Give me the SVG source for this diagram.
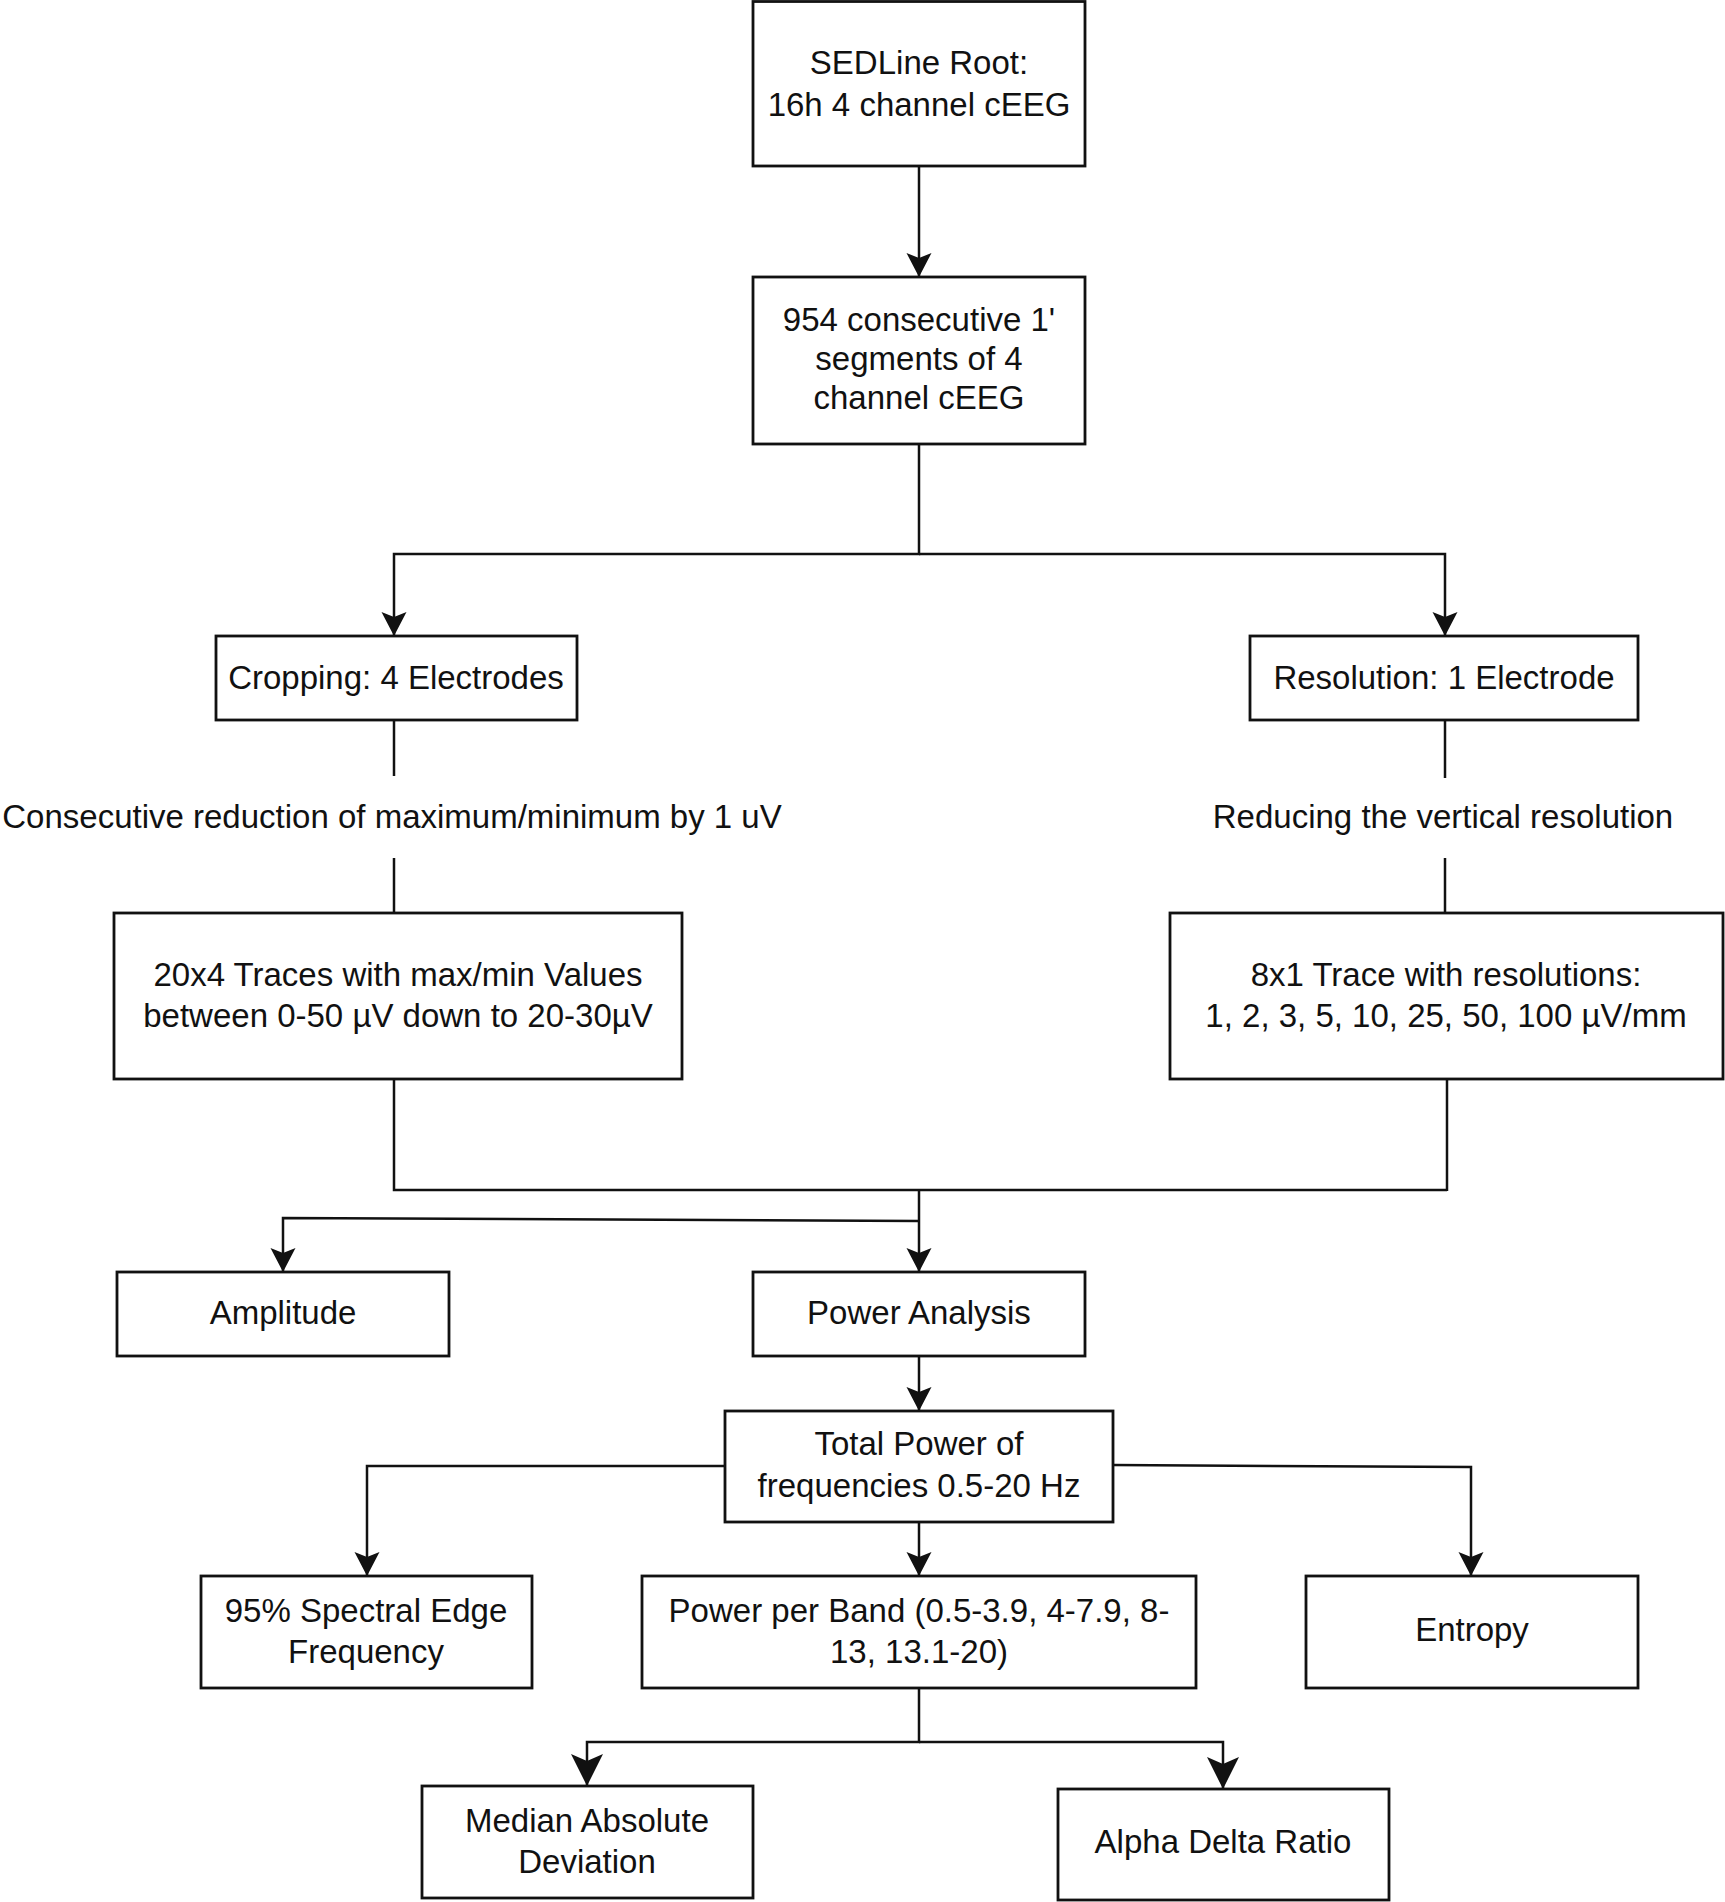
<svg xmlns="http://www.w3.org/2000/svg" width="1725" height="1902" viewBox="0 0 1725 1902">
<style>
.box{fill:#ffffff;stroke:#111111;stroke-width:2.8}
.ln{fill:none;stroke:#111111;stroke-width:2.5}
.t{font-family:"Liberation Sans",Arial,Helvetica,sans-serif;font-size:33px;fill:#111111;text-anchor:middle}
</style>
<defs>
<marker id="arr" markerUnits="userSpaceOnUse" viewBox="-26 -14 28 28" markerWidth="28" markerHeight="28" refX="0" refY="0" orient="auto">
<path d="M0,0 L-24,-12.5 L-19,0 L-24,12.5 Z" fill="#111111"/>
</marker>
<marker id="arrL" markerUnits="userSpaceOnUse" viewBox="-34 -18 36 36" markerWidth="36" markerHeight="36" refX="0" refY="0" orient="auto">
<path d="M0,0 L-32,-16 L-25,0 L-32,16 Z" fill="#111111"/>
</marker>
</defs>
<rect width="1725" height="1902" fill="#ffffff"/>
<g id="connectors">
<path class="ln" d="M919,166 V277" marker-end="url(#arr)"/>
<path class="ln" d="M919,444 V554 H394 V636" marker-end="url(#arr)"/>
<path class="ln" d="M919,554 H1445 V636" marker-end="url(#arr)"/>
<path class="ln" d="M394,720 V776"/>
<path class="ln" d="M394,858 V913"/>
<path class="ln" d="M1445,720 V778"/>
<path class="ln" d="M1445,858 V913"/>
<path class="ln" d="M394,1079 V1190 H1447"/>
<path class="ln" d="M1447,1079 V1191"/>
<path class="ln" d="M919,1190 V1272" marker-end="url(#arr)"/>
<path class="ln" d="M919,1221 L283,1218 V1272" marker-end="url(#arr)"/>
<path class="ln" d="M919,1356 V1411" marker-end="url(#arr)"/>
<path class="ln" d="M725,1466 H367 V1576" marker-end="url(#arr)"/>
<path class="ln" d="M1113,1465 L1471,1467 V1576" marker-end="url(#arr)"/>
<path class="ln" d="M919,1522 V1576" marker-end="url(#arr)"/>
<path class="ln" d="M919,1688 V1742 H587 V1786" marker-end="url(#arrL)"/>
<path class="ln" d="M919,1742 H1223 V1789" marker-end="url(#arrL)"/>
</g>
<g id="root">
<rect class="box" x="753" y="1.5" width="332" height="164.5"/>
<text class="t" x="919" y="74">SEDLine Root:</text>
<text class="t" x="919" y="116">16h 4 channel cEEG</text>
</g>
<g id="segments">
<rect class="box" x="753" y="277" width="332" height="167"/>
<text class="t" x="919" y="331">954 consecutive 1'</text>
<text class="t" x="919" y="370">segments of 4</text>
<text class="t" x="919" y="409">channel cEEG</text>
</g>
<g id="cropping">
<rect class="box" x="216" y="636" width="361" height="84"/>
<text class="t" x="396" y="689">Cropping: 4 Electrodes</text>
</g>
<g id="resolution">
<rect class="box" x="1250" y="636" width="388" height="84"/>
<text class="t" x="1444" y="689">Resolution: 1 Electrode</text>
</g>
<g id="label-consecutive">
<text class="t" x="392" y="828">Consecutive reduction of maximum/minimum by 1 uV</text>
</g>
<g id="label-reducing">
<text class="t" x="1443" y="828">Reducing the vertical resolution</text>
</g>
<g id="traces">
<rect class="box" x="114" y="913" width="568" height="166"/>
<text class="t" x="398" y="986">20x4 Traces with max/min Values</text>
<text class="t" x="398" y="1027">between 0-50 µV down to 20-30µV</text>
</g>
<g id="trace8">
<rect class="box" x="1170" y="913" width="553" height="166"/>
<text class="t" x="1446" y="986">8x1 Trace with resolutions:</text>
<text class="t" x="1446" y="1027">1, 2, 3, 5, 10, 25, 50, 100 µV/mm</text>
</g>
<g id="amplitude">
<rect class="box" x="117" y="1272" width="332" height="84"/>
<text class="t" x="283" y="1324">Amplitude</text>
</g>
<g id="power-analysis">
<rect class="box" x="753" y="1272" width="332" height="84"/>
<text class="t" x="919" y="1324">Power Analysis</text>
</g>
<g id="total-power">
<rect class="box" x="725" y="1411" width="388" height="111"/>
<text class="t" x="919" y="1455">Total Power of</text>
<text class="t" x="919" y="1497">frequencies 0.5-20 Hz</text>
</g>
<g id="spectral-edge">
<rect class="box" x="201" y="1576" width="331" height="112"/>
<text class="t" x="366" y="1622">95% Spectral Edge</text>
<text class="t" x="366" y="1663">Frequency</text>
</g>
<g id="power-per-band">
<rect class="box" x="642" y="1576" width="554" height="112"/>
<text class="t" x="919" y="1622">Power per Band (0.5-3.9, 4-7.9, 8-</text>
<text class="t" x="919" y="1663">13, 13.1-20)</text>
</g>
<g id="entropy">
<rect class="box" x="1306" y="1576" width="332" height="112"/>
<text class="t" x="1472" y="1641">Entropy</text>
</g>
<g id="median">
<rect class="box" x="422" y="1786" width="331" height="112"/>
<text class="t" x="587" y="1832">Median Absolute</text>
<text class="t" x="587" y="1873">Deviation</text>
</g>
<g id="alpha-delta">
<rect class="box" x="1058" y="1789" width="331" height="111"/>
<text class="t" x="1223" y="1853">Alpha Delta Ratio</text>
</g>
</svg>
